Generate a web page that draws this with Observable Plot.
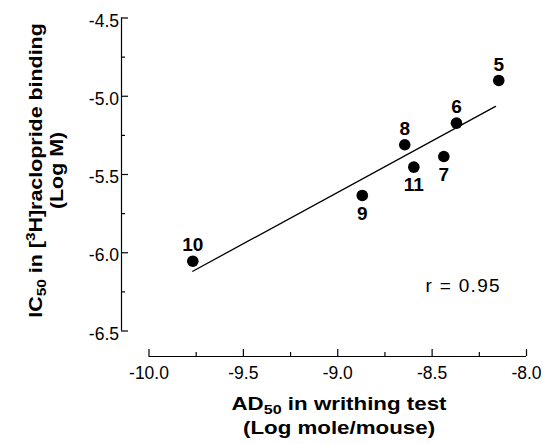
<!DOCTYPE html>
<html><head><meta charset="utf-8">
<script src="https://cdn.jsdelivr.net/npm/d3@7"></script>
<script src="https://cdn.jsdelivr.net/npm/@observablehq/plot@0.6"></script>
<style>
body{margin:0;background:#fff}
svg{font-family:"Liberation Sans",Arial,Helvetica,sans-serif}
</style>
</head><body><div id="chart"></div>
<script>
// Data
const compounds = ["5","6","7","8","9","10","11"];
const ad50 = [-8.147,-8.371,-8.438,-8.645,-8.870,-9.768,-8.597];
const ic50 = [-4.899,-5.172,-5.385,-5.310,-5.634,-6.054,-5.453];
const labelBelow = ["7","9","11"];
const fitX = [-9.768,-8.164];
const fitY = [-6.118,-5.065];
const xTicks = [-10,-9.5,-9,-8.5,-8];
const xMinor = [-9.75,-9.25,-8.75,-8.25];
const yTicks = [-4.5,-5,-5.5,-6,-6.5];
const yMinor = [-4.75,-5.25,-5.75,-6.25];
const rText = "r = 0.95";
const rX = -8.535, rY = -6.212;

const points = compounds.map((c,i)=>({c, x:ad50[i], y:ic50[i]}));
const fit = fitX.map((x,i)=>({x, y:fitY[i]}));
const fmt = d => d.toFixed(1);

const xOff = 25.5, yOff = -27.5;
const chart = Plot.plot({
  width:543, height:444,
  marginLeft:148.5, marginRight:17, marginTop:17.5, marginBottom:113.5,
  style:{fontFamily:'"Liberation Sans",Arial,sans-serif', color:"#000", background:"#fff"},
  x:{domain:[-10,-8]},
  y:{domain:[-6.5,-4.5]},
  marks:[
    // axis lines
    Plot.ruleY([-6.5], {x1:-10, x2:-8, dy:xOff, stroke:"#000", strokeWidth:1.2}),
    Plot.ruleX([-10], {y1:-6.5, y2:-4.5, dx:yOff, stroke:"#000", strokeWidth:1.2}),
    // x ticks
    Plot.axisX({ticks:xTicks, tickSize:-7, fill:"none", dy:xOff, stroke:"#000", strokeWidth:1.2}),
    Plot.axisX({ticks:xMinor, tickSize:-4, fill:"none", dy:xOff, stroke:"#000", strokeWidth:1.2}),
    Plot.axisX({ticks:xTicks, tickSize:0, tickPadding:10, dy:xOff, tickFormat:fmt, fontSize:17.5, fill:"#000", label:null}),
    // y ticks
    Plot.axisY({ticks:yTicks, tickSize:-7, fill:"none", dx:yOff, stroke:"#000", strokeWidth:1.2}),
    Plot.axisY({ticks:yMinor, tickSize:-4, fill:"none", dx:yOff, stroke:"#000", strokeWidth:1.2}),
    Plot.axisY({ticks:yTicks, tickSize:0, tickPadding:2.5, dx:yOff, dy:3, tickFormat:fmt, fontSize:17.5, fill:"#000", label:null}),
    // regression line
    Plot.line(fit, {x:"x", y:"y", stroke:"#000", strokeWidth:1.3}),
    // points
    Plot.dot(points, {x:"x", y:"y", r:5.8, fill:"#000", stroke:null}),
    Plot.text(points.filter(d=>!labelBelow.includes(d.c)), {x:"x", y:"y", text:"c", dy:-16, fontSize:19, fontWeight:"bold", fill:"#000"}),
    Plot.text(points.filter(d=>labelBelow.includes(d.c)), {x:"x", y:"y", text:"c", dy:18, fontSize:19, fontWeight:"bold", fill:"#000"}),
    Plot.text([rText], {x:rX, y:rY, text:d=>d, textAnchor:"start", fontSize:19, fill:"#000"})
  ]
});
document.getElementById("chart").appendChild(chart);

const svg = d3.select(chart);
// widen the correlation label a little, like the reference
svg.selectAll("text").filter(function(){ return this.textContent === rText; })
  .style("letter-spacing","1.3px");

// Axis titles with sub/superscripts
const tf = '"Liberation Sans",Arial,sans-serif';
const xt = svg.append("text").attr("text-anchor","middle").attr("font-size",18).attr("font-weight","bold").attr("font-family",tf).attr("fill","#000")
  .attr("transform","translate(339,0) scale(1.24,1)");
const l1 = xt.append("tspan").attr("x",0).attr("y",410);
l1.append("tspan").text("AD");
l1.append("tspan").attr("font-size",13).attr("dy",4).text("50");
l1.append("tspan").attr("dy",-4).text(" in writhing test");
xt.append("tspan").attr("x",0).attr("y",434.5).text("(Log mole/mouse)");

const yt = svg.append("text").attr("text-anchor","middle").attr("font-size",18).attr("font-weight","bold").attr("font-family",tf).attr("fill","#000")
  .attr("transform","translate(0,170.5) rotate(-90) scale(1.19,1)");
const y1 = yt.append("tspan").attr("x",0).attr("y",42.5);
y1.append("tspan").text("IC");
y1.append("tspan").attr("font-size",13).attr("dy",4).text("50");
y1.append("tspan").attr("dy",-4).text(" in [");
y1.append("tspan").attr("font-size",13).attr("dy",-7).text("3");
y1.append("tspan").attr("dy",7).text("H]raclopride binding");
yt.append("tspan").attr("x",0).attr("y",63).text("(Log M)");
</script>
</body></html>
